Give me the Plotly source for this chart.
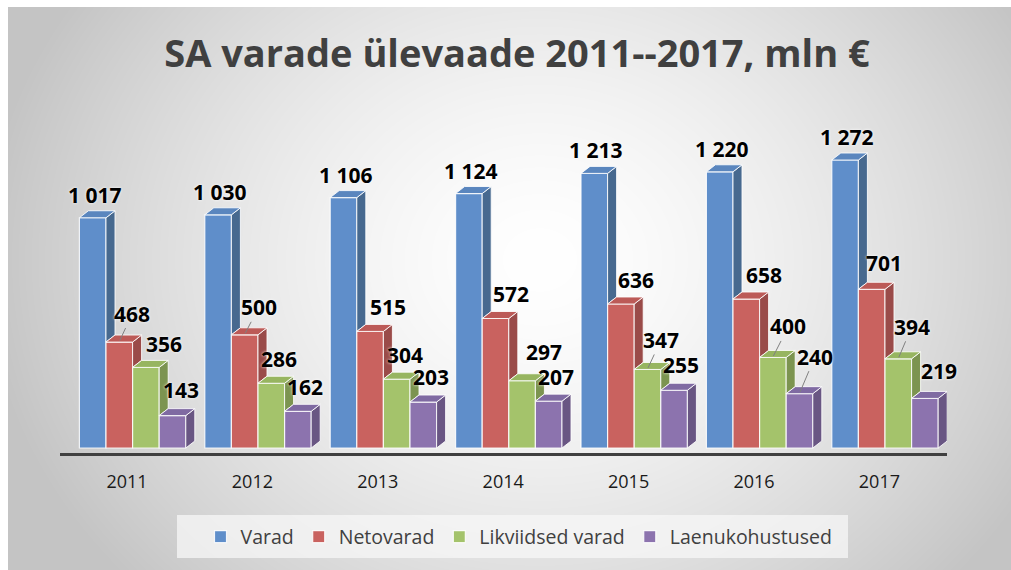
import base64
import struct
import zlib

import numpy as np
import plotly.graph_objects as go

# ---------------- data ----------------
years = ["2011", "2012", "2013", "2014", "2015", "2016", "2017"]
varad = [1017, 1030, 1106, 1124, 1213, 1220, 1272]
netovarad = [468, 500, 515, 572, 636, 658, 701]
likviidsed_varad = [356, 286, 304, 297, 347, 400, 394]
laenukohustused = [143, 162, 203, 207, 255, 240, 219]
series_names = ["Varad", "Netovarad", "Likviidsed varad", "Laenukohustused"]
title_text = "SA varade ülevaade 2011--2017, mln €"

series_values = [varad, netovarad, likviidsed_varad, laenukohustused]

# ---------------- style ----------------
FRONT = ["#5F8ECA", "#C9625F", "#A4C36B", "#8C73AE"]
SIDE = ["#47698F", "#9A4B49", "#7C9450", "#695683"]
TOP = ["#5A86BE", "#BC5A57", "#97B560", "#7F6AA2"]
EDGE = "rgba(255,255,255,0.85)"

W_FIG, H_FIG = 1011, 570
M_L = 60
M_R = W_FIG - 947
M_T = 100
PLOT_BOTTOM = 453
M_B = H_FIG - PLOT_BOTTOM
PW = W_FIG - M_L - M_R
PH = H_FIG - M_T - M_B
PX_PER_X = 125.4          # pixels per category
X0_PX = 127               # first category
PX_PER_Y = 0.2264         # pixels per value unit
Y0_PX = 448               # value 0

x_min = -(X0_PX - M_L) / PX_PER_X
x_rng = [x_min, x_min + PW / PX_PER_X]
y_min = -(PLOT_BOTTOM - Y0_PX) / PX_PER_Y
y_rng = [y_min, y_min + PH / PX_PER_Y]

BAR_W = 26.6 / PX_PER_X
GROUP_SHIFT = 5.6 / PX_PER_X
DX = 9 / PX_PER_X
DY = 7 / PX_PER_Y

# label centre offsets in px (right, up) from top-centre of front face
PLAIN_OFFSETS = [
    [(1.5, 23)] * 7,
    [None, None, (18, 24), (15.5, 24.5), (15, 24.5), (17.5, 24.5), (12.5, 26.5)],
    [(18, 23.5), (8, 24), (8, 24.5), (21.5, 28.5), None, None, None],
    [(8, 26), (7.5, 24.5), (8, 25.5), (7, 24.5), (7, 25.5), None, (14.5, 27.5)],
]
# leader-line labels: (series, year index) -> (ax, ay) in px from head
LEADERS = {
    (1, 0): (12.5, -27), (1, 1): (13.5, -26), (2, 4): (13, -28),
    (2, 5): (15, -29.5), (2, 6): (13, -30.5), (3, 5): (15, -35.5),
}


def fmt(v):
    return f"{v:,}".replace(",", " ")


# ---------------- background gradient image (whole figure) ----------------
def png_bytes(arr):
    h, w = arr.shape
    raw = b"".join(b"\x00" + arr[r].tobytes() for r in range(h))

    def chunk(t, d):
        c = struct.pack(">I", len(d)) + t + d
        return c + struct.pack(">I", zlib.crc32(t + d) & 0xFFFFFFFF)

    return (b"\x89PNG\r\n\x1a\n"
            + chunk(b"IHDR", struct.pack(">IIBBBBB", w, h, 8, 0, 0, 0, 0))
            + chunk(b"IDAT", zlib.compress(raw, 9))
            + chunk(b"IEND", b""))


BG_X0, BG_Y0 = 8, 7
yy, xx = np.mgrid[0:H_FIG, 0:W_FIG]
rr = np.sqrt(((xx + 0.5 - 540) / 560) ** 2 + ((yy + 0.5 - 260) / 480) ** 2)
val = 255 - (255 - 196) * np.clip(rr, 0, 1) ** 1.5
val[(xx < BG_X0) | (yy < BG_Y0)] = 255
img = np.clip(val, 0, 255).astype(np.uint8)
bg_src = "data:image/png;base64," + base64.b64encode(png_bytes(img)).decode()

# ---------------- figure ----------------
fig = go.Figure()
idx = list(range(len(years)))

lefts = []
for s, vals in enumerate(series_values):
    off = GROUP_SHIFT - 2 * BAR_W + s * BAR_W
    lefts.append(off)
    fig.add_trace(go.Bar(
        x=idx, y=vals, width=BAR_W, offset=off, name=series_names[s],
        marker=dict(color=FRONT[s], line=dict(color=EDGE, width=1.2)),
        hoverinfo="skip",
    ))

for s, vals in enumerate(series_values):
    sx, sy, tx, ty = [], [], [], []
    for i, v in enumerate(vals):
        x_l = i + lefts[s]
        x_r = x_l + BAR_W
        base = series_values[s + 1][i] if s < 3 else 0
        base = min(base, v)
        sx += [x_r, x_r + DX, x_r + DX, x_r, x_r, None]
        sy += [base, base + DY, v + DY, v, base, None]
        tx += [x_l, x_r, x_r + DX, x_l + DX, x_l, None]
        ty += [v, v, v + DY, v + DY, v, None]
    fig.add_trace(go.Scatter(
        x=sx, y=sy, mode="lines", fill="toself", fillcolor=SIDE[s],
        line=dict(color=EDGE, width=1), hoverinfo="skip", showlegend=False))
    fig.add_trace(go.Scatter(
        x=tx, y=ty, mode="lines", fill="toself", fillcolor=TOP[s],
        line=dict(color=EDGE, width=1), hoverinfo="skip", showlegend=False))

label_font = dict(family="Open Sans", size=21, color="#000000", weight="bold",
                  shadow="0px 0px 3px #ffffff")
annotations = []
for s, vals in enumerate(series_values):
    for i, v in enumerate(vals):
        xc = i + lefts[s] + BAR_W / 2
        if (s, i) in LEADERS:
            ax, ay = LEADERS[(s, i)]
            annotations.append(dict(
                x=xc, y=v, xref="x", yref="y", text=fmt(v), font=label_font,
                showarrow=True, arrowhead=0, arrowwidth=1, arrowcolor="#808080",
                ax=ax, ay=ay, axref="pixel", ayref="pixel",
                xshift=0.5, yshift=1.5, standoff=0, borderpad=0))
        else:
            dx, dy = PLAIN_OFFSETS[s][i]
            annotations.append(dict(
                x=xc, y=v, xref="x", yref="y", text=fmt(v), font=label_font,
                showarrow=False, xshift=dx, yshift=dy,
                xanchor="center", yanchor="middle"))

# legend backing box (177..848 x 515..558)
legend_box = dict(type="rect", xref="paper", yref="paper", layer="below",
                  x0=(177 - M_L) / PW, x1=(848 - M_L) / PW,
                  y0=(PLOT_BOTTOM - 558) / PH, y1=(PLOT_BOTTOM - 515) / PH,
                  fillcolor="rgba(247,247,247,0.75)", line=dict(width=0))

fig.update_layout(
    width=W_FIG, height=H_FIG, autosize=False,
    margin=dict(l=M_L, r=M_R, t=M_T, b=M_B, pad=0, autoexpand=False),
    paper_bgcolor="#cccccc", plot_bgcolor="rgba(0,0,0,0)",
    barmode="overlay",
    title=dict(text=title_text, x=517 / W_FIG, xanchor="center",
               y=1 - 54 / H_FIG, yanchor="middle",
               font=dict(family="Open Sans", size=38, color="#404040", weight="bold")),
    xaxis=dict(range=x_rng, tickmode="array", tickvals=idx, ticktext=years,
               showgrid=False, zeroline=False, showline=True, linecolor="#404040",
               linewidth=3, ticks="", ticklabelstandoff=10,
               tickfont=dict(family="Open Sans", size=18, color="#1a1a1a"),
               fixedrange=True),
    yaxis=dict(range=y_rng, visible=False, showgrid=False, zeroline=False,
               fixedrange=True),
    legend=dict(orientation="h", x=(519 - M_L) / PW, xanchor="center",
                y=(PLOT_BOTTOM - 537) / PH, yanchor="middle",
                bgcolor="rgba(0,0,0,0)", borderwidth=0,
                font=dict(family="Open Sans", size=19.5, color="#404040"),
                traceorder="normal"),
    annotations=annotations,
    shapes=[legend_box],
    images=[dict(source=bg_src, xref="paper", yref="paper",
                 x=-M_L / PW, y=PLOT_BOTTOM / PH,
                 sizex=W_FIG / PW, sizey=H_FIG / PH, xanchor="left", yanchor="top",
                 sizing="stretch", layer="below")],
    showlegend=True,
)

# remove the default page margin so the 1011x570 figure fills the window exactly
fig.write_html("out.html", config={"displayModeBar": False},
               post_script="document.body.style.margin='0px';"
                           "document.documentElement.style.overflow='hidden';")
